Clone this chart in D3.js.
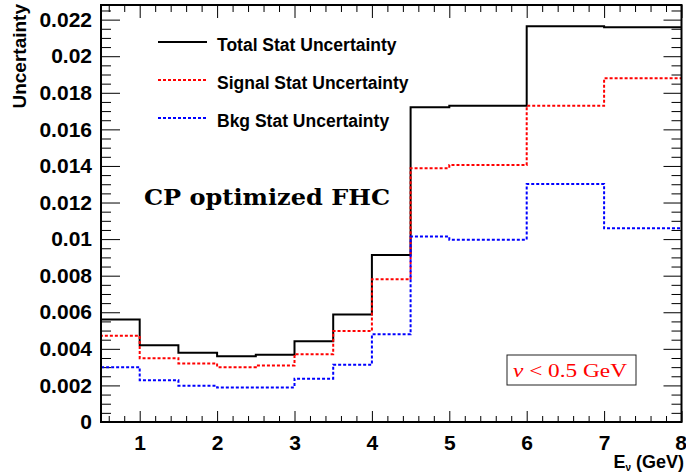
<!DOCTYPE html>
<html>
<head>
<meta charset="utf-8">
<script src="https://cdn.jsdelivr.net/npm/d3@7"></script>
<style>
  html, body { margin: 0; padding: 0; background: #ffffff; }
  svg { display: block; }
</style>
</head>
<body>
<svg id="chart" width="686" height="473"></svg>
<script>
// Bin edges in neutrino energy (GeV)
const binEdges = [0.5, 1, 1.5, 2, 2.5, 3, 3.5, 4, 4.5, 5, 6, 7, 8];

// Statistical uncertainty per bin
const totalStat  = [0.00561, 0.00420, 0.00378, 0.00360, 0.00368, 0.00442, 0.00588, 0.00913, 0.01721, 0.01729, 0.02164, 0.02158];
const signalStat = [0.00471, 0.00349, 0.00320, 0.00300, 0.00309, 0.00371, 0.00497, 0.00781, 0.01388, 0.01405, 0.01729, 0.01880];
const bkgStat    = [0.00300, 0.00228, 0.00198, 0.00189, 0.00189, 0.00237, 0.00313, 0.00480, 0.01014, 0.00997, 0.01301, 0.01059];

// Axis ticks and labels
const xTickValues = [1, 2, 3, 4, 5, 6, 7, 8];
const yTickValues = [0, 0.002, 0.004, 0.006, 0.008, 0.01, 0.012, 0.014, 0.016, 0.018, 0.02, 0.022];
const yTickLabels = ["0", "0.002", "0.004", "0.006", "0.008", "0.01", "0.012", "0.014", "0.016", "0.018", "0.02", "0.022"];

const legendLabels = ["Total Stat Uncertainty", "Signal Stat Uncertainty", "Bkg Stat Uncertainty"];

const svg = d3.select("#chart");
const W = 686, H = 473;
svg.append("rect").attr("width", W).attr("height", H).attr("fill", "#ffffff");

const frameL = 101, frameR = 681.5, frameT = 5, frameB = 422;
const x = d3.scaleLinear().domain([0.5, 8]).range([frameL, frameR]);
const y = d3.scaleLinear().domain([0, 0.0228]).range([frameB, frameT]);

const sansBold = "'Liberation Sans', Arial, Helvetica, sans-serif";

// minor tick positions
const xMinor = d3.range(3, 40).map(i => i * 0.2).filter(v => Math.abs(v - Math.round(v)) > 1e-6);
const yMinor = d3.range(1, 46).map(i => i * 0.0005).filter(v => Math.abs(v / 0.002 - Math.round(v / 0.002)) > 1e-6);

function styleAxis(g) {
  g.select(".domain").remove();
  g.selectAll(".tick line").attr("stroke", "#000").attr("stroke-width", 1);
}

// bottom axis
const gx = svg.append("g").attr("transform", `translate(0,${frameB})`)
  .call(d3.axisBottom(x).tickValues(xTickValues).tickSize(-11).tickPadding(13).tickFormat(d3.format("d")));
styleAxis(gx);
gx.selectAll("text").attr("font-family", sansBold).attr("font-weight", "bold")
  .attr("font-size", 21).attr("fill", "#000");
// keep the last label inside the canvas
gx.selectAll(".tick").filter(d => d === 8).select("text").attr("text-anchor", "end").attr("x", 5);
styleAxis(svg.append("g").attr("transform", `translate(0,${frameB})`)
  .call(d3.axisBottom(x).tickValues(xMinor).tickSize(-6).tickFormat("")));

// top axis
styleAxis(svg.append("g").attr("transform", `translate(0,${frameT})`)
  .call(d3.axisTop(x).tickValues(xTickValues).tickSize(-13).tickFormat("")));
styleAxis(svg.append("g").attr("transform", `translate(0,${frameT})`)
  .call(d3.axisTop(x).tickValues(xMinor).tickSize(-7).tickFormat("")));

// left axis
const gy = svg.append("g").attr("transform", `translate(${frameL},0)`)
  .call(d3.axisLeft(y).tickValues(yTickValues).tickSize(-19).tickPadding(9)
    .tickFormat((d, i) => yTickLabels[i]));
styleAxis(gy);
gy.selectAll("text").attr("font-family", sansBold).attr("font-weight", "bold")
  .attr("font-size", 21).attr("fill", "#000");
styleAxis(svg.append("g").attr("transform", `translate(${frameL},0)`)
  .call(d3.axisLeft(y).tickValues(yMinor).tickSize(-10).tickFormat("")));

// right axis
styleAxis(svg.append("g").attr("transform", `translate(${frameR},0)`)
  .call(d3.axisRight(y).tickValues(yTickValues).tickSize(-18).tickFormat("")));
styleAxis(svg.append("g").attr("transform", `translate(${frameR},0)`)
  .call(d3.axisRight(y).tickValues(yMinor).tickSize(-10).tickFormat("")));

// histogram outlines
const stepLine = d3.line().x(d => x(d[0])).y(d => y(d[1])).curve(d3.curveStepBefore);
function histPoints(vals) {
  return [[binEdges[0], 0]].concat(vals.map((v, i) => [binEdges[i + 1], v]));
}
const series = [
  { vals: totalStat,  color: "#000000", dash: null },
  { vals: signalStat, color: "#ff0000", dash: "3,2" },
  { vals: bkgStat,    color: "#0000ff", dash: "3,2" }
];
series.forEach(s => {
  svg.append("path")
    .attr("d", stepLine(histPoints(s.vals)))
    .attr("fill", "none")
    .attr("stroke", s.color)
    .attr("stroke-width", 2)
    .attr("stroke-dasharray", s.dash);
});

// frame
svg.append("rect")
  .attr("x", frameL).attr("y", frameT)
  .attr("width", frameR - frameL).attr("height", frameB - frameT)
  .attr("fill", "none").attr("stroke", "#000").attr("stroke-width", 2);

// axis titles
svg.append("text")
  .attr("transform", `translate(26,4) rotate(-90)`)
  .attr("text-anchor", "end")
  .attr("font-family", sansBold).attr("font-weight", "bold").attr("font-size", 19)
  .text("Uncertainty");

const xt = svg.append("text")
  .attr("x", 684).attr("y", 468)
  .attr("text-anchor", "end")
  .attr("font-family", sansBold).attr("font-weight", "bold").attr("font-size", 18);
xt.append("tspan").text("E");
xt.append("tspan").attr("font-size", 10).attr("dy", 3).text("ν");
xt.append("tspan").attr("dy", -3).text(" (GeV)");

// legend
const legendY = [42, 80, 118];
series.forEach((s, i) => {
  svg.append("line")
    .attr("x1", 158).attr("x2", 207)
    .attr("y1", legendY[i]).attr("y2", legendY[i])
    .attr("stroke", s.color).attr("stroke-width", 2)
    .attr("stroke-dasharray", s.dash);
  svg.append("text")
    .attr("x", 217).attr("y", legendY[i] + 8.5)
    .attr("font-family", sansBold).attr("font-weight", "bold").attr("font-size", 17.5)
    .text(legendLabels[i]);
});

// annotation
svg.append("text")
  .attr("x", 144).attr("y", 205)
  .attr("font-family", "'DejaVu Serif', 'Liberation Serif', serif")
  .attr("font-weight", "bold").attr("font-size", 22)
  .attr("textLength", 246).attr("lengthAdjust", "spacingAndGlyphs")
  .text("CP optimized FHC");

svg.append("rect")
  .attr("x", 507).attr("y", 355).attr("width", 129).attr("height", 30)
  .attr("fill", "#ffffff").attr("stroke", "#222").attr("stroke-width", 1);
const cut = svg.append("text")
  .attr("x", 513).attr("y", 377)
  .attr("font-family", "'Liberation Serif', 'DejaVu Serif', serif")
  .attr("font-size", 19).attr("fill", "#ff0000")
  .attr("textLength", 114).attr("lengthAdjust", "spacingAndGlyphs");
cut.append("tspan").attr("font-style", "italic").text("ν");
cut.append("tspan").text(" < 0.5 GeV");
</script>
</body>
</html>
